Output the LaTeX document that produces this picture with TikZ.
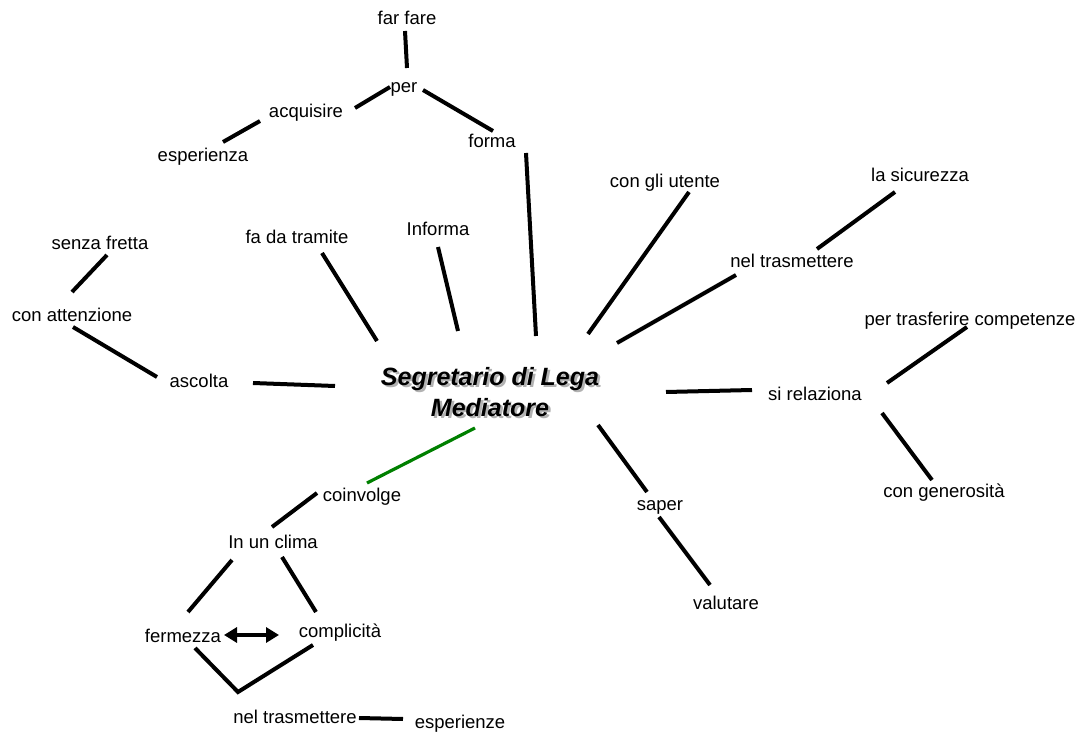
\documentclass[tikz,border=0pt]{standalone}
\usepackage{fontspec}
\setmainfont{Liberation Sans}
\usetikzlibrary{arrows.meta}
\definecolor{linkgreen}{RGB}{0,128,0}
\begin{document}
\begin{tikzpicture}[x=1pt,y=-1pt,
  lbl/.style={anchor=base,inner sep=0pt,font=\fontsize{18.5}{22}\selectfont},
  link/.style={line width=4pt},
  greenlink/.style={line width=3.2pt,draw=linkgreen},
  titletext/.style={align=center,inner sep=0pt,font=\fontsize{25}{31}\selectfont\bfseries\itshape}]
\useasboundingbox[fill=white] (0,0) rectangle (1085,735);

% central concept, its grey drop shadow drawn first
\node[titletext,text=black!30] at (492.5,394.5) {Segretario di Lega\\Mediatore};
\node[titletext] (centre) at (490,392) {Segretario di Lega\\Mediatore};

% labels
\node[lbl] (farfare) at (407,25) {far fare};
\node[lbl] (per) at (404,93) {per};
\node[lbl] (acquisire) at (306,118) {acquisire};
\node[lbl] (esperienza) at (203,162) {esperienza};
\node[lbl] (forma) at (492,148) {forma};
\node[lbl] (utente) at (665,188) {con gli utente};
\node[lbl] (sicurezza) at (920,182) {la sicurezza};
\node[lbl] (trasmA) at (792,268) {nel trasmettere};
\node[lbl] (fretta) at (100,250) {senza fretta};
\node[lbl] (tramite) at (297,244) {fa da tramite};
\node[lbl] (informa) at (438,236) {Informa};
\node[lbl] (attenzione) at (72,322) {con attenzione};
\node[lbl] (competenze) at (970,326) {per trasferire competenze};
\node[lbl] (ascolta) at (199,388) {ascolta};
\node[lbl] (relaziona) at (815,401) {si relaziona};
\node[lbl] (coinvolge) at (362,501) {coinvolge};
\node[lbl] (generosita) at (944,497) {con generosità};
\node[lbl] (saper) at (660,510) {saper};
\node[lbl] (clima) at (273,548) {In un clima};
\node[lbl] (valutare) at (726,609) {valutare};
\node[lbl] (fermezza) at (183,642) {fermezza};
\node[lbl] (complicita) at (340,637) {complicità};
\node[lbl] (trasmB) at (295,723) {nel trasmettere};
\node[lbl] (esperienze) at (460,728) {esperienze};

% connector end points
\coordinate (a1) at (405,31);  \coordinate (a2) at (407,68);
\coordinate (b1) at (390,87);  \coordinate (b2) at (355,108);
\coordinate (c1) at (260,121); \coordinate (c2) at (223,142);
\coordinate (d1) at (423,90);  \coordinate (d2) at (493,131);
\coordinate (e1) at (526,153); \coordinate (e2) at (536,336);
\coordinate (f1) at (107,255); \coordinate (f2) at (72,292);
\coordinate (g1) at (73,327);  \coordinate (g2) at (157,377);
\coordinate (h1) at (253,383); \coordinate (h2) at (335,386);
\coordinate (i1) at (322,253); \coordinate (i2) at (377,341);
\coordinate (j1) at (438,247); \coordinate (j2) at (458,331);
\coordinate (k1) at (689,192); \coordinate (k2) at (588,334);
\coordinate (m1) at (736,275); \coordinate (m2) at (617,343);
\coordinate (n1) at (895,192); \coordinate (n2) at (817,249);
\coordinate (o1) at (666,392); \coordinate (o2) at (752,390);
\coordinate (p1) at (887,383); \coordinate (p2) at (967,327);
\coordinate (q1) at (882,413); \coordinate (q2) at (932,480);
\coordinate (r1) at (598,425); \coordinate (r2) at (647,492);
\coordinate (s1) at (659,517); \coordinate (s2) at (710,585);
\coordinate (t1) at (475,428); \coordinate (t2) at (367,483);
\coordinate (u1) at (317,493); \coordinate (u2) at (272,527);
\coordinate (v1) at (232,560); \coordinate (v2) at (188,612);
\coordinate (w1) at (282,557); \coordinate (w2) at (316,612);
\coordinate (x1) at (224,635); \coordinate (x2) at (279,635);
\coordinate (y1) at (195,648); \coordinate (y2) at (238,692); \coordinate (y3) at (313,645);
\coordinate (z1) at (359,718); \coordinate (z2) at (403,719);

% connectors
\draw[link] (a1) -- (a2);
\draw[link] (b1) -- (b2);
\draw[link] (c1) -- (c2);
\draw[link] (d1) -- (d2);
\draw[link] (e1) -- (e2);
\draw[link] (f1) -- (f2);
\draw[link] (g1) -- (g2);
\draw[link] (h1) -- (h2);
\draw[link] (i1) -- (i2);
\draw[link] (j1) -- (j2);
\draw[link] (k1) -- (k2);
\draw[link] (m1) -- (m2);
\draw[link] (n1) -- (n2);
\draw[link] (o1) -- (o2);
\draw[link] (p1) -- (p2);
\draw[link] (q1) -- (q2);
\draw[link] (r1) -- (r2);
\draw[link] (s1) -- (s2);
\draw[greenlink] (t1) -- (t2);
\draw[link] (u1) -- (u2);
\draw[link] (v1) -- (v2);
\draw[link] (w1) -- (w2);
\draw[line width=3.6pt,{Triangle[length=13pt,width=15pt]}-{Triangle[length=13pt,width=15pt]}] (x1) -- (x2);
\draw[link,line join=miter] (y1) -- (y2) -- (y3);
\draw[link] (z1) -- (z2);
\end{tikzpicture}
\end{document}
